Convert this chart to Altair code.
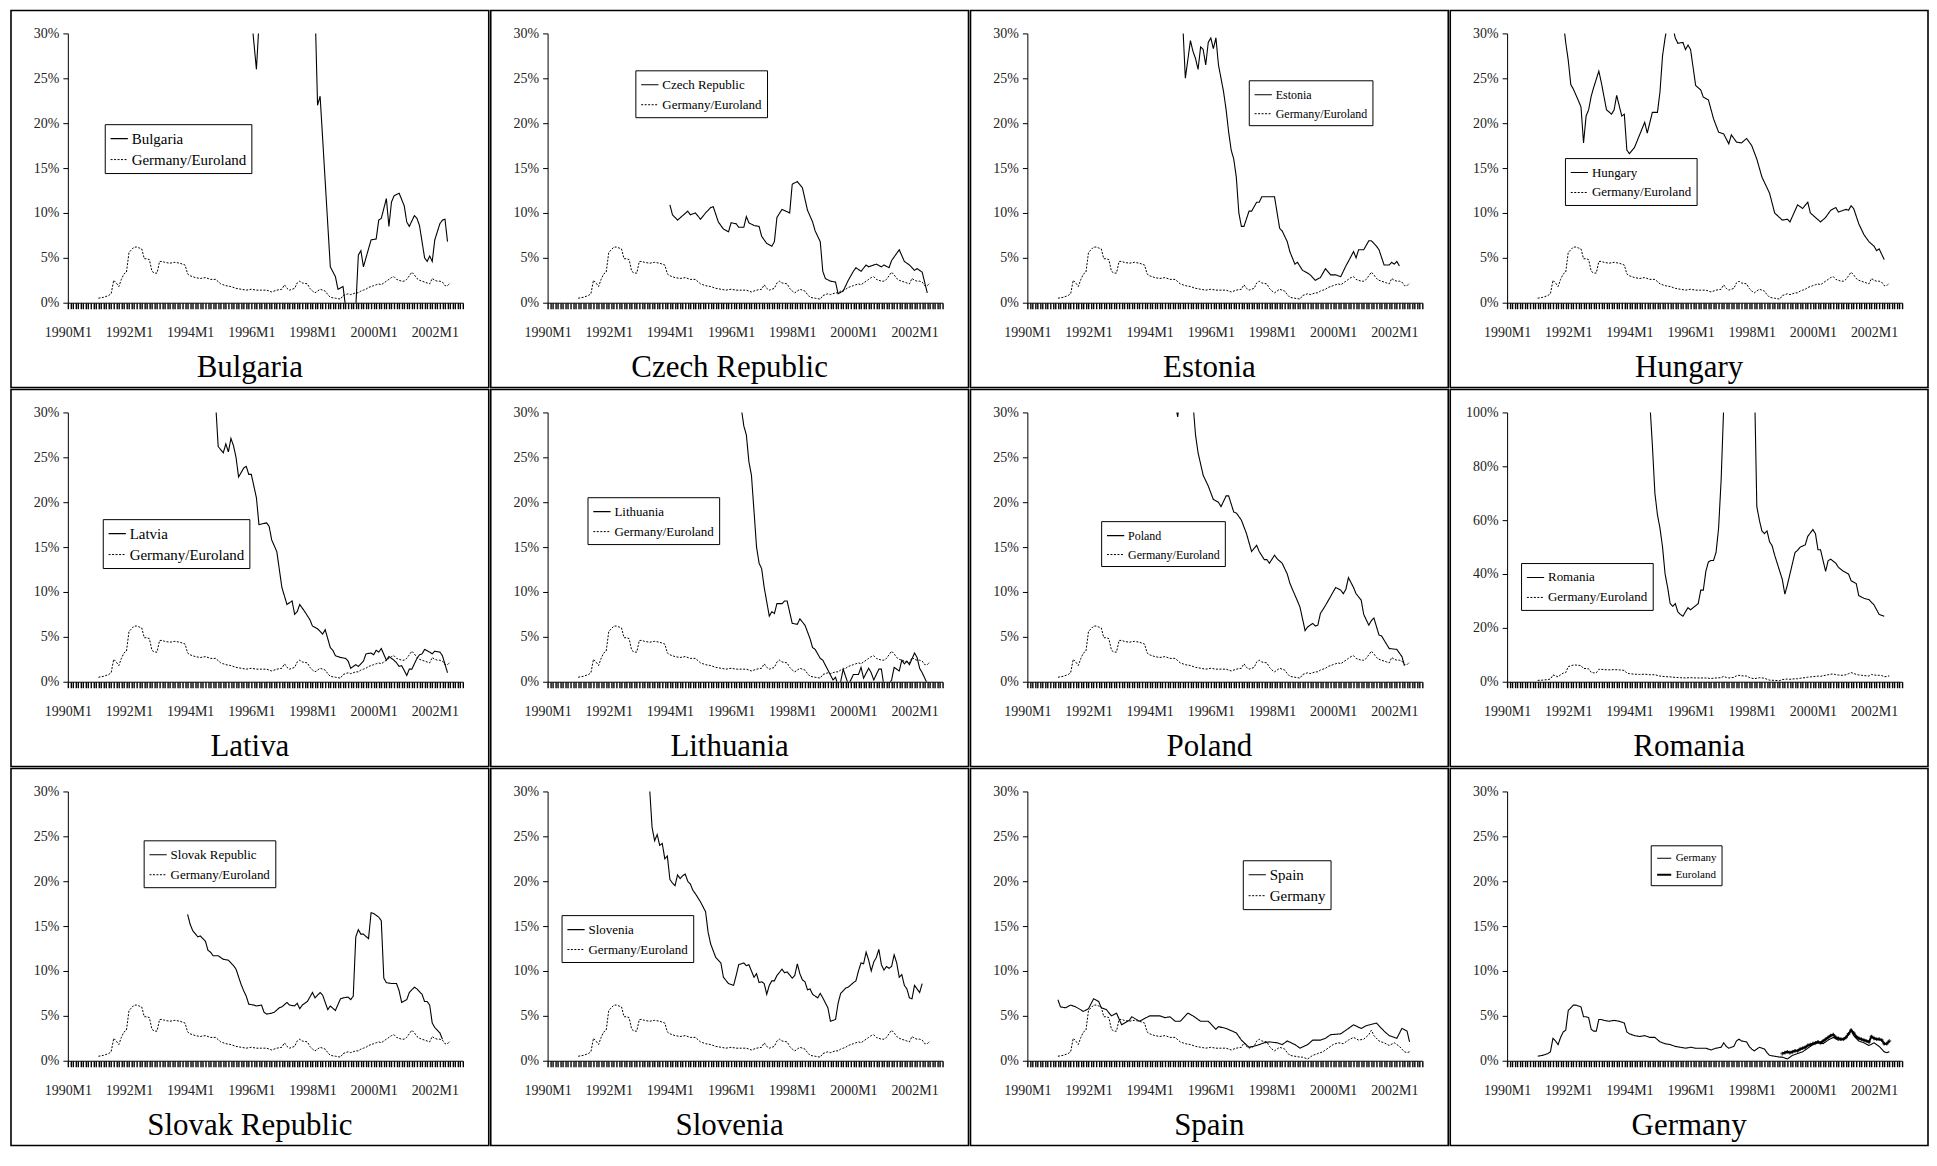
import altair as alt
import pandas as pd

# monthly index: 0 = 1990M1 ... 155 = 2002M12
X_LABELS = ['1990M1', '1992M1', '1994M1', '1996M1', '1998M1', '2000M1', '2002M1']
Y_TICKS_30 = [0, 5, 10, 15, 20, 25, 30]
Y_TICKS_100 = [0, 20, 40, 60, 80, 100]

GERMANY = [(12, 0.5), (14, 0.6), (16, 0.8), (17, 1.0), (18, 2.5), (19, 2.2), (20, 1.8), (21, 2.6),
           (22, 3.2), (23, 3.4), (24, 5.6), (25, 5.9), (26, 6.2), (27, 6.2), (28, 6.1), (29, 6.0),
           (30, 4.9), (31, 4.9), (32, 4.8), (33, 3.5), (34, 3.3), (35, 3.3), (36, 4.6), (37, 4.6),
           (38, 4.5), (40, 4.4), (42, 4.5), (44, 4.4), (46, 4.2), (47, 3.2), (48, 3.0), (50, 2.8),
           (52, 2.7), (54, 2.8), (56, 2.6), (58, 2.6), (60, 2.1), (62, 1.9), (64, 1.8), (66, 1.6),
           (68, 1.5), (70, 1.4), (72, 1.5), (74, 1.4), (76, 1.4), (78, 1.4), (80, 1.2), (82, 1.4),
           (84, 1.5), (85, 2.0), (86, 1.6), (87, 1.4), (89, 1.6), (90, 2.2), (91, 2.4), (92, 2.2),
           (94, 2.1), (95, 1.6), (96, 1.3), (97, 1.1), (98, 1.3), (99, 1.5), (101, 1.3), (102, 0.9),
           (103, 0.6), (105, 0.5), (107, 0.4), (108, 0.4), (109, 0.3), (110, 0.2), (112, 0.6),
           (114, 0.8), (116, 1.0), (118, 1.4), (120, 1.8), (122, 2.0), (124, 1.9), (126, 2.3),
           (128, 2.6), (130, 2.3), (132, 2.4), (134, 2.9), (135, 3.4), (136, 2.8), (138, 2.2),
           (140, 2.0), (142, 1.7), (144, 2.0), (146, 1.6), (148, 1.0), (149, 0.9), (150, 1.0)]

EUROLAND = [(108, 0.8), (109, 0.9), (110, 1.0), (111, 0.9), (112, 1.0), (113, 1.1), (114, 1.1),
            (115, 1.3), (116, 1.4), (117, 1.5), (118, 1.7), (119, 1.8), (120, 1.9), (121, 2.0),
            (122, 2.1), (123, 2.0), (124, 2.2), (125, 2.4), (126, 2.6), (127, 2.8), (128, 2.9),
            (129, 2.6), (130, 2.5), (131, 2.4), (132, 2.4), (133, 2.6), (134, 3.0), (135, 3.4),
            (136, 3.1), (137, 2.7), (138, 2.5), (139, 2.4), (140, 2.3), (141, 2.2), (142, 2.1),
            (143, 2.7), (144, 2.5), (145, 2.4), (146, 2.4), (147, 2.3), (148, 1.9), (149, 1.9),
            (150, 2.2)]

BULGARIA = [(70, 45), (72, 32), (74, 26), (75, 31), (76, 60), (80, 120), (90, 200), (96, 60),
            (97, 33), (98, 22), (99, 23), (103, 4.0), (105, 2.9), (106, 1.5), (108, 1.8),
            (109, -0.5), (110, -5), (112, -5), (113, -0.5), (114, 5.3), (115, 5.8), (116, 4.0),
            (119, 7.0), (121, 7.1), (122, 9.2), (123, 9.4), (125, 11.6), (126, 8.5), (127, 11.2),
            (128, 11.9), (130, 12.2), (132, 10.8), (133, 9.0), (134, 8.5), (136, 9.7), (137, 9.4),
            (138, 8.6), (140, 5.0), (141, 4.6), (142, 5.2), (143, 4.6), (144, 7.0), (146, 8.8),
            (147, 9.2), (148, 9.3), (149, 6.8)]

CZECH = [(48, 10.9), (49, 9.8), (51, 9.2), (53, 9.7), (55, 10.2), (56, 9.8), (58, 10.0), (60, 9.3),
         (62, 10.0), (64, 10.6), (65, 10.7), (67, 9.0), (69, 8.2), (71, 7.9), (72, 8.9), (74, 8.8),
         (75, 8.4), (77, 8.4), (78, 9.6), (79, 8.9), (81, 8.6), (83, 8.5), (84, 7.4), (86, 6.6),
         (88, 6.3), (89, 6.8), (90, 9.5), (92, 10.4), (95, 10.0), (96, 13.2), (98, 13.5),
         (100, 12.8), (102, 10.3), (104, 9.0), (105, 8.0), (107, 6.8), (108, 3.5), (109, 2.7),
         (111, 2.4), (113, 2.3), (114, 1.0), (116, 1.3), (118, 2.5), (120, 3.5), (121, 3.9),
         (123, 3.5), (125, 4.2), (126, 4.0), (129, 4.3), (131, 4.0), (132, 4.2), (134, 3.9),
         (135, 4.7), (138, 5.9), (140, 4.6), (142, 4.2), (144, 3.6), (145, 3.8), (147, 3.4),
         (149, 1.1)]

ESTONIA = [(60, 34), (61, 31), (62, 25.0), (64, 29.2), (65, 28.0), (66, 27.2), (67, 26.0),
           (68, 28.5), (69, 28.2), (70, 26.5), (71, 29.0), (72, 29.5), (73, 28.3), (74, 29.5),
           (75, 26.5), (77, 23.5), (78, 21.5), (79, 19.0), (80, 17.0), (81, 16.0), (82, 14.0),
           (83, 10.0), (84, 8.5), (85, 8.5), (87, 10.2), (88, 10.2), (90, 11.2), (91, 11.2),
           (92, 11.8), (95, 11.8), (97, 11.8), (99, 8.3), (100, 8.0), (102, 6.8), (103, 5.7),
           (105, 4.3), (106, 4.5), (108, 3.6), (110, 3.3), (111, 3.1), (113, 2.5), (115, 2.8),
           (117, 3.8), (119, 3.1), (121, 3.1), (123, 2.9), (125, 4.1), (126, 4.6), (128, 5.7),
           (129, 5.0), (130, 5.9), (132, 5.9), (134, 6.9), (135, 6.9), (137, 6.3), (138, 5.9),
           (140, 4.2), (142, 4.2), (143, 4.5), (144, 4.3), (145, 4.6), (146, 4.1)]

HUNGARY = [(18, 45), (21, 34), (23, 29), (24, 27), (25, 24.3), (26, 23.8), (28, 22.5), (29, 21.8),
           (30, 17.8), (31, 20.8), (32, 21.5), (33, 23.0), (34, 24.0), (36, 25.8), (37, 24.5),
           (38, 23.0), (39, 21.5), (41, 21.0), (42, 21.5), (43, 23.1), (45, 20.8), (46, 21.0),
           (47, 17.0), (48, 16.6), (50, 17.3), (54, 20.1), (55, 18.9), (57, 21.2), (59, 21.2),
           (60, 23.5), (61, 27.5), (62, 29.5), (63, 31), (64, 32), (65, 30.8), (66, 29.5),
           (67, 28.9), (69, 29.0), (70, 28.2), (71, 28.7), (72, 28.2), (74, 24.2), (76, 23.7),
           (77, 22.9), (79, 22.6), (81, 20.5), (83, 19.0), (85, 18.8), (87, 17.7), (88, 18.7),
           (90, 17.9), (92, 17.8), (94, 18.3), (96, 17.5), (98, 16.0), (100, 14.0), (103, 12.2),
           (105, 10.0), (108, 9.2), (110, 9.3), (111, 9.0), (114, 10.9), (116, 10.5), (118, 11.2),
           (119, 10.0), (121, 9.5), (123, 9.0), (125, 9.5), (127, 10.3), (129, 10.6), (130, 10.1),
           (133, 10.4), (134, 10.3), (135, 10.8), (136, 10.5), (138, 8.8), (140, 7.6), (142, 6.8),
           (144, 6.3), (145, 5.8), (146, 6.0), (148, 4.8)]

LATVIA = [(56, 40), (58, 31), (59, 26.2), (61, 25.5), (62, 26.5), (63, 25.6), (64, 27.1),
          (65, 26.3), (66, 25.0), (67, 22.8), (69, 23.8), (70, 24.0), (71, 23.1), (72, 23.1),
          (74, 20.5), (75, 17.5), (78, 17.7), (79, 17.3), (80, 15.8), (82, 14.5), (83, 12.5),
          (84, 10.5), (86, 8.6), (88, 9.0), (89, 7.5), (90, 7.8), (91, 8.6), (93, 7.8), (95, 6.9),
          (96, 6.2), (98, 5.9), (100, 5.3), (101, 5.8), (103, 3.8), (104, 3.5), (105, 2.9),
          (107, 2.7), (109, 2.6), (110, 2.3), (111, 1.5), (113, 1.9), (114, 1.7), (116, 2.3),
          (117, 3.1), (119, 3.2), (120, 3.0), (121, 3.5), (122, 3.3), (123, 3.7), (125, 2.4),
          (126, 2.8), (128, 2.4), (129, 2.1), (130, 1.7), (131, 1.8), (133, 0.7), (134, 1.4),
          (135, 1.4), (137, 2.6), (138, 3.0), (139, 3.1), (140, 3.6), (142, 3.3), (143, 3.1),
          (144, 3.4), (146, 3.3), (147, 2.9), (149, 1.0)]

LITHUANIA = [(74, 45), (76, 30.5), (77, 28.5), (78, 27.5), (79, 24.5), (80, 23.0), (81, 19.0),
             (82, 15.0), (83, 13.2), (84, 12.6), (85, 10.5), (87, 7.3), (88, 7.8), (89, 7.6),
             (90, 8.7), (92, 8.7), (93, 9.0), (94, 9.0), (96, 6.5), (98, 6.4), (99, 7.0),
             (101, 6.3), (103, 4.8), (104, 3.8), (105, 3.6), (107, 2.6), (108, 2.4), (110, 1.3),
             (112, 0.2), (113, 0.5), (114, -0.5), (115, 0.0), (116, 1.4), (118, -0.3), (119, 0.2),
             (120, 0.8), (122, 0.8), (123, 1.6), (124, 0.4), (126, 1.5), (127, 1.0), (128, 0.2),
             (130, 1.4), (131, 1.4), (132, -0.5), (134, -0.3), (135, 0.2), (136, 1.6), (138, 1.2),
             (139, 2.4), (140, 2.0), (141, 2.3), (142, 1.9), (144, 3.2), (145, 2.7), (146, 1.5),
             (147, 1.0), (149, -0.2)]

POLAND = [(52, 60), (57, 40), (58, 31), (59, 29.5), (60, 32), (62, 38), (65, 31), (66, 27.5),
          (67, 25.5), (69, 23.0), (71, 21.8), (73, 20.3), (75, 20.0), (76, 19.5), (78, 20.7),
          (79, 20.7), (81, 18.9), (82, 18.8), (84, 18.0), (86, 16.5), (88, 14.5), (90, 15.2),
          (91, 14.5), (93, 13.6), (94, 13.6), (95, 13.2), (97, 14.1), (98, 13.7), (100, 13.2),
          (102, 12.0), (103, 11.0), (104, 10.3), (106, 9.0), (107, 8.3), (109, 5.7), (110, 6.1),
          (112, 6.5), (113, 6.2), (114, 6.3), (115, 7.6), (117, 8.5), (119, 9.5), (121, 10.5),
          (123, 10.2), (124, 9.8), (125, 10.3), (126, 11.6), (128, 10.5), (129, 9.8), (131, 9.1),
          (132, 7.5), (134, 6.3), (135, 6.8), (136, 7.1), (138, 5.2), (139, 5.1), (142, 3.7),
          (145, 3.6), (147, 2.8), (148, 1.8)]

ROMANIA = [(50, 150), (56, 104), (57, 88), (58, 70), (59, 62), (60, 57), (61, 50), (62, 40),
           (63, 35), (64, 29), (65, 28), (66, 29), (67, 26), (68, 25), (69, 24.3), (70, 26),
           (71, 27.5), (72, 26.7), (73, 27.5), (75, 29), (76, 34), (77, 34), (78, 41), (79, 44.5),
           (80, 45), (81, 45), (82, 48), (83, 57), (84, 75), (85, 102), (90, 180), (97, 115),
           (98, 65), (99, 60), (100, 56), (101, 55), (102, 56), (103, 52), (104, 50.5), (105, 47),
           (107, 41), (108, 38), (109, 32.5), (110, 36), (111, 40), (113, 48), (114, 48.8),
           (115, 50), (117, 50.8), (118, 54), (120, 56.5), (121, 55), (122, 49), (123, 49),
           (124, 45), (125, 41), (126, 45), (127, 45.5), (129, 44), (130, 42.5), (132, 41),
           (134, 40), (135, 37.5), (137, 36.5), (138, 32), (140, 31), (142, 30.5), (144, 28.5),
           (146, 25), (148, 24.3)]

SLOVAKIA = [(47, 16.3), (48, 15.2), (49, 14.5), (51, 13.8), (52, 13.9), (54, 13.3), (55, 12.3),
            (56, 12.1), (57, 11.7), (59, 11.7), (61, 11.3), (63, 11.2), (64, 10.9), (65, 10.6),
            (66, 10.2), (68, 8.5), (69, 7.8), (70, 7.2), (71, 6.3), (73, 6.2), (74, 6.1), (76, 6.2),
            (77, 5.4), (78, 5.2), (80, 5.3), (81, 5.4), (83, 5.9), (84, 6.0), (86, 6.5), (87, 6.2),
            (89, 6.1), (90, 6.4), (91, 5.8), (92, 6.2), (94, 6.6), (96, 7.6), (97, 7.0), (99, 7.6),
            (100, 7.3), (101, 6.5), (102, 5.7), (103, 6.1), (105, 5.6), (107, 6.9), (108, 7.0),
            (110, 7.1), (111, 6.8), (112, 7.2), (113, 13.8), (114, 14.6), (115, 14.1), (116, 14.1),
            (118, 13.6), (119, 16.5), (120, 16.4), (122, 16.0), (123, 15.6), (124, 9.2), (125, 8.7),
            (127, 8.6), (129, 8.6), (130, 7.8), (131, 6.5), (133, 6.8), (134, 7.6), (136, 8.2),
            (137, 8.0), (139, 7.4), (140, 6.6), (141, 6.6), (142, 6.2), (143, 4.2), (144, 3.7),
            (146, 3.1), (147, 2.4)]

SLOVENIA = [(38, 45), (40, 30.5), (41, 26), (42, 24.5), (43, 25.2), (44, 24.0), (45, 24.2),
            (46, 22.5), (47, 22.8), (48, 20.2), (49, 19.8), (50, 19.5), (51, 20.7), (52, 20.3),
            (53, 20.6), (54, 20.8), (55, 20.0), (56, 19.7), (57, 19.0), (58, 18.6), (60, 17.7),
            (62, 16.6), (63, 14.3), (64, 13.0), (66, 11.5), (68, 10.9), (69, 9.3), (71, 8.6),
            (73, 8.4), (74, 9.5), (75, 10.7), (77, 10.9), (78, 10.6), (79, 10.7), (80, 10.0),
            (81, 9.3), (82, 9.7), (83, 8.7), (84, 8.8), (85, 8.6), (86, 7.4), (87, 8.4), (88, 8.9),
            (89, 8.9), (90, 9.5), (92, 10.2), (93, 9.8), (94, 9.9), (96, 9.2), (97, 9.5),
            (98, 10.8), (99, 9.7), (100, 9.0), (101, 8.8), (102, 7.9), (103, 8.0), (104, 7.4),
            (106, 7.0), (107, 7.5), (108, 7.0), (110, 5.9), (111, 4.4), (113, 4.6), (114, 6.4),
            (115, 7.5), (117, 8.1), (118, 8.2), (120, 8.7), (121, 8.9), (122, 10.0), (123, 10.9),
            (124, 10.8), (125, 12.1), (126, 11.2), (127, 10.0), (128, 11.0), (129, 11.5),
            (130, 12.4), (131, 10.7), (132, 10.1), (133, 10.5), (134, 10.3), (135, 10.5),
            (136, 11.8), (137, 10.9), (138, 9.3), (139, 9.6), (140, 8.4), (141, 8.0), (142, 7.0),
            (143, 6.9), (144, 8.4), (145, 8.0), (146, 7.6), (147, 8.6)]

SPAIN = [(12, 6.8), (13, 6.0), (15, 5.9), (17, 6.2), (19, 6.0), (22, 5.5), (24, 5.8), (26, 6.9),
         (28, 6.6), (29, 5.9), (31, 5.7), (33, 5.0), (35, 5.3), (37, 4.0), (40, 4.5), (41, 4.9),
         (44, 4.4), (46, 4.7), (48, 5.0), (52, 5.0), (54, 4.8), (56, 4.9), (58, 4.4), (60, 4.4),
         (63, 5.3), (65, 5.0), (68, 4.4), (71, 4.4), (74, 3.5), (75, 3.8), (78, 3.6), (82, 3.1),
         (84, 2.3), (87, 1.5), (90, 1.7), (93, 2.0), (95, 2.1), (98, 2.0), (100, 1.8), (102, 2.2),
         (105, 1.8), (107, 1.4), (110, 1.8), (112, 2.3), (115, 2.3), (117, 2.5), (119, 2.9),
         (123, 3.0), (126, 3.6), (128, 4.0), (131, 3.6), (133, 3.9), (137, 4.2), (140, 3.3),
         (142, 2.8), (145, 2.5), (147, 3.6), (149, 3.3), (150, 2.1)]

# the benchmark line: Germany until 1998M12, Euroland afterwards
GER_EURO = [p for p in GERMANY if p[0] < 108] + EUROLAND

FONT = 'Liberation Serif'
W, H = 396, 270                     # plot area of one panel
LEFT, TOP, RIGHT, BOTTOM = 57, 23, 26, 85  # frame around the plot area

LABEL_EXPR = ("datum.value % 24 == 0 ? [" + ", ".join("'%s'" % s for s in X_LABELS)
              + "][datum.value / 24] : ''")


def to_df(pairs, name):
    return pd.DataFrame({'m': [p[0] for p in pairs], 'v': [p[1] for p in pairs], 'series': name})


def panel(caption, main_name, main, ref_name, ref, lx, ly, lsize, ymax=30, yticks=Y_TICKS_30,
          dotted=True, ref_width=1.0, markers=False):
    df = pd.concat([to_df(main, main_name), to_df(ref, ref_name)], ignore_index=True)
    domain = [main_name, ref_name]
    dashes = [[1, 0], [2, 1.5]] if dotted else [[1, 0], [1, 0]]

    x = alt.X('m:Q', scale=alt.Scale(domain=[0, 155], nice=False, zero=False),
              axis=alt.Axis(values=list(range(156)), labelExpr=LABEL_EXPR, title=None,
                            labelOverlap=False, labelFlush=False, labelPadding=17, ticks=True,
                            tickSize=6, tickWidth=1.4, tickColor='#000', grid=False))
    y = alt.Y('v:Q', scale=alt.Scale(domain=[0, ymax], nice=False),
              axis=alt.Axis(values=yticks, labelExpr="datum.value + '%'", title=None, ticks=True,
                            tickSize=5, tickWidth=1, tickColor='#000', labelPadding=4, grid=False))

    lines = alt.Chart(df).mark_line(clip=True, color='black').encode(
        x=x, y=y,
        strokeDash=alt.StrokeDash('series:N', scale=alt.Scale(domain=domain, range=dashes),
                                  legend=alt.Legend(title=None, orient='none', legendX=lx, legendY=ly,
                                                    labelFontSize=lsize, symbolSize=300 if lsize > 11 else 200,
                                                    direction='vertical')),
        strokeWidth=alt.StrokeWidth('series:N', scale=alt.Scale(domain=domain, range=[1.1, ref_width]),
                                    legend=None),
    )
    layers = [lines]
    if markers:
        layers.append(alt.Chart(to_df(ref, ref_name)).mark_point(
            shape='cross', size=14, filled=True, color='black', clip=True).encode(x=x, y=y))

    deco = alt.Data(values=[{'label': caption}])
    frame = alt.Chart(deco).mark_rect(fill='white', fillOpacity=0, stroke='black', strokeWidth=1.6).encode(
        x=alt.value(-LEFT), x2=alt.value(W + RIGHT), y=alt.value(-TOP), y2=alt.value(H + BOTTOM))
    title = alt.Chart(deco).mark_text(font=FONT, fontSize=31, baseline='alphabetic', align='center').encode(
        x=alt.value((W + RIGHT - LEFT) / 2), y=alt.value(H + 74), text='label:N')

    return alt.layer(*layers, frame, title).properties(width=W, height=H)


panels = [
    panel('Bulgaria', 'Bulgaria', BULGARIA, 'Germany/Euroland', GER_EURO, 37, 91, 15),
    panel('Czech Republic', 'Czech Republic', CZECH, 'Germany/Euroland', GER_EURO, 88, 37, 13),
    panel('Estonia', 'Estonia', ESTONIA, 'Germany/Euroland', GER_EURO, 222, 47, 12),
    panel('Hungary', 'Hungary', HUNGARY, 'Germany/Euroland', GER_EURO, 58, 125, 13),
    panel('Lativa', 'Latvia', LATVIA, 'Germany/Euroland', GER_EURO, 35, 107, 15),
    panel('Lithuania', 'Lithuania', LITHUANIA, 'Germany/Euroland', GER_EURO, 40, 85, 13),
    panel('Poland', 'Poland', POLAND, 'Germany/Euroland', GER_EURO, 74, 109, 12),
    panel('Romania', 'Romania', ROMANIA, 'Germany/Euroland', GER_EURO, 14, 151, 13,
          ymax=100, yticks=Y_TICKS_100),
    panel('Slovak Republic', 'Slovak Republic', SLOVAKIA, 'Germany/Euroland', GER_EURO, 76, 49, 13),
    panel('Slovenia', 'Slovenia', SLOVENIA, 'Germany/Euroland', GER_EURO, 14, 124, 13),
    panel('Spain', 'Spain', SPAIN, 'Germany', GERMANY, 216, 69, 15),
    panel('Germany', 'Germany', GERMANY, 'Euroland', EUROLAND, 144, 54, 11,
          dotted=False, ref_width=2.0, markers=True),
]

indep = dict(x='independent', y='independent', strokeDash='independent', strokeWidth='independent')

rows = [alt.hconcat(*panels[i * 4:(i + 1) * 4], spacing=0)
        .resolve_scale(**indep)
        .resolve_legend(strokeDash='independent', strokeWidth='independent')
        for i in range(3)]

chart = alt.vconcat(*rows, spacing=0).resolve_scale(**indep).resolve_legend(
    strokeDash='independent', strokeWidth='independent'
).properties(
    padding={'left': 2, 'top': 0, 'right': 0, 'bottom': 0}
).configure_view(
    strokeWidth=0
).configure_axis(
    domainColor='black', domainWidth=1, labelFont=FONT, labelFontSize=14, labelColor='#222'
).configure_legend(
    strokeColor='black', fillColor='white', padding=5, labelFont=FONT, labelColor='black',
    symbolType='stroke', symbolStrokeColor='black', symbolStrokeWidth=1, rowPadding=3,
    labelOffset=3, cornerRadius=0
)

chart.save('out.html', embed_options={'renderer': 'svg', 'actions': False})
